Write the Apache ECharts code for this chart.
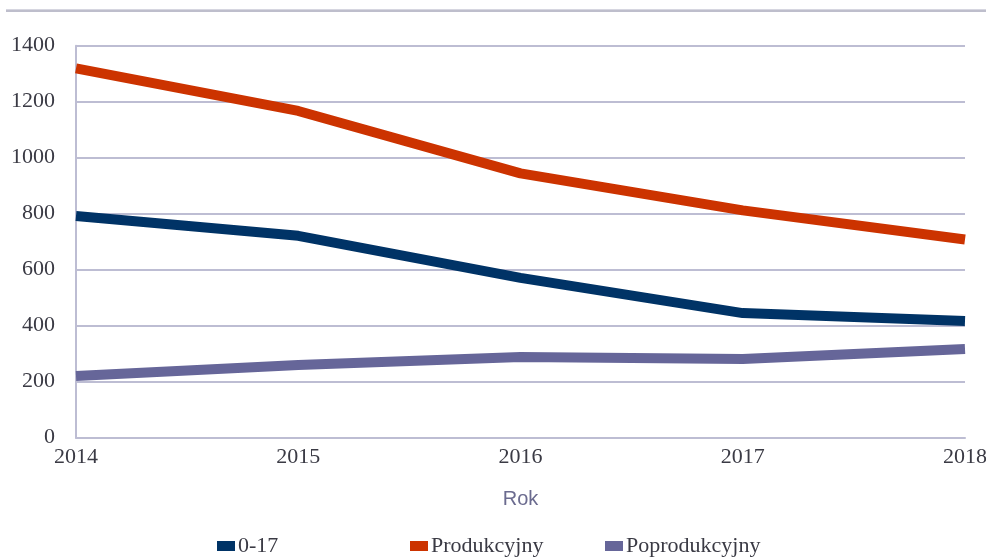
<!DOCTYPE html>
<html><head><meta charset="utf-8">
<script src="https://cdn.jsdelivr.net/npm/echarts@6/dist/echarts.min.js"></script>
<style>html,body{margin:0;padding:0;background:#fff}#c{width:986px;height:558px}</style>
</head><body><div id="c"></div>
<script>
const years = ['2014','2015','2016','2017','2018'];
const s017 = [792, 721, 571, 445, 417];
const sProd = [1319, 1167, 944, 812, 708];
const sPoprod = [220, 260, 288, 281, 317];
const yTicks = [0, 200, 400, 600, 800, 1000, 1200, 1400];

const serif = '"Liberation Serif","Times New Roman",serif';
const chart = echarts.init(document.getElementById('c'), null, {renderer:'canvas'});
const gridColor = '#bdbdd3';
const legendBase = {top: 530, itemWidth: 18, itemHeight: 10, itemGap: 0, icon: 'rect',
  textStyle: {fontFamily: serif, fontSize: 22, color: '#3a3a44', padding: [0,0,0,-2]}};
chart.setOption({
  animation: false,
  grid: {left: 76, right: 21, top: 45.7, bottom: 120.3, outerBoundsMode: 'none', containLabel: false},
  graphic: [
    {type: 'line', shape: {x1: 6, y1: 9.5, x2: 986, y2: 9.5}, style: {stroke: '#d6d6e0', lineWidth: 1}},
    {type: 'line', shape: {x1: 6, y1: 11, x2: 986, y2: 11}, style: {stroke: '#a9a9bb', lineWidth: 1.5}}
  ],
  legend: [
    Object.assign({}, legendBase, {left: 212, data: ['0-17']}),
    Object.assign({}, legendBase, {left: 405, data: ['Produkcyjny']}),
    Object.assign({}, legendBase, {left: 600, data: ['Poprodukcyjny']})
  ],
  xAxis: {
    type: 'category', data: years, boundaryGap: false,
    name: 'Rok', nameLocation: 'middle', nameGap: 52,
    nameTextStyle: {fontFamily: '"Liberation Sans",Arial,sans-serif', fontSize: 20, color: '#6b6b8f'},
    axisLine: {lineStyle: {color: gridColor, width: 2}},
    axisTick: {show: false},
    axisLabel: {fontFamily: serif, fontSize: 22, color: '#3a3a44', margin: 9, showMinLabel: true, showMaxLabel: true},
    splitLine: {show: false}
  },
  yAxis: {
    type: 'value', min: yTicks[0], max: yTicks[yTicks.length-1], interval: 200,
    axisLine: {show: true, lineStyle: {color: gridColor, width: 2}},
    axisTick: {show: false},
    axisLabel: {fontFamily: serif, fontSize: 22, color: '#3a3a44', margin: 21, formatter: v => String(v)},
    splitLine: {lineStyle: {color: gridColor, width: 2}}
  },
  series: [
    {name: '0-17', type: 'line', data: s017, symbol: 'none', lineStyle: {width: 10, color: '#003366', join: 'round'}, itemStyle: {color: '#003366'}},
    {name: 'Produkcyjny', type: 'line', data: sProd, symbol: 'none', lineStyle: {width: 10, color: '#cc3300', join: 'round'}, itemStyle: {color: '#cc3300'}},
    {name: 'Poprodukcyjny', type: 'line', data: sPoprod, symbol: 'none', lineStyle: {width: 10, color: '#666699', join: 'round'}, itemStyle: {color: '#666699'}}
  ]
});
</script></body></html>
